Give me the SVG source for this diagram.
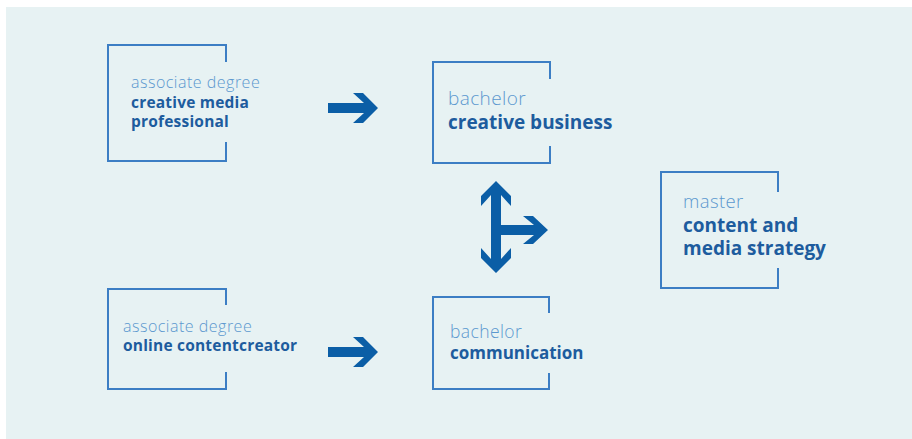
<svg xmlns="http://www.w3.org/2000/svg" width="912" height="439" viewBox="0 0 912 439">
<style>
.frame{fill:none;stroke:#3c7ec4;stroke-width:2}
.arrow{fill:#0b5ea6}
text{font-family:"Open Sans","DejaVu Sans",sans-serif}
.lt{fill:#5b98cf;font-weight:300}
.bd{fill:#1d5c9e;font-weight:700}
</style>
<rect x="0" y="0" width="912" height="439" fill="#ffffff"/>
<rect x="6" y="7" width="906" height="432" fill="#e7f2f3"/>
<g id="assoc-cmp">
<path class="frame" d="M226,62 V45 H108 V161 H226 V142"/>
<text class="lt" x="131" y="88" font-size="16" letter-spacing="0.5">associate degree</text>
<text class="bd" x="131" y="108" font-size="15.5" letter-spacing="0.2">creative media</text>
<text class="bd" x="131" y="127" font-size="15.5" letter-spacing="0.2">professional</text>
</g>
<g id="bachelor-cb">
<path class="frame" d="M550,79 V62 H433 V163 H550 V146"/>
<text class="lt" x="448" y="105" font-size="19" letter-spacing="0.4">bachelor</text>
<text class="bd" x="448" y="129" font-size="19">creative business</text>
</g>
<g id="master-cms">
<path class="frame" d="M778,192 V172 H661 V288 H778 V268"/>
<text class="lt" x="683" y="208" font-size="18.5" letter-spacing="0.4">master</text>
<text class="bd" x="683" y="232" font-size="19">content and</text>
<text class="bd" x="683" y="255" font-size="19">media strategy</text>
</g>
<g id="assoc-occ">
<path class="frame" d="M226,305 V289 H108 V389 H226 V372"/>
<text class="lt" x="123" y="332" font-size="16" letter-spacing="0.5">associate degree</text>
<text class="bd" x="123" y="351" font-size="15.5" letter-spacing="0.2">online contentcreator</text>
</g>
<g id="bachelor-com">
<path class="frame" d="M549,313 V297 H433 V389 H549 V373"/>
<text class="lt" x="450" y="338" font-size="17.5" letter-spacing="0.4">bachelor</text>
<text class="bd" x="450" y="359" font-size="17">communication</text>
</g>
<g id="connectors">
<path class="arrow" d="M328,103 H364 L353,93 H363 L378,108 L363,123 H353 L364,113 H328 Z"/>
<path class="arrow" d="M328,347 H364 L353,337 H363 L378,352 L363,367 H353 L364,357 H328 Z"/>
<path class="arrow" d="M491,195 L481,206 V196 L496,181 L511,196 V206 L501,195 V225 H534 L523,216 H533 L548,230 L533,244 H523 L534,235 H501 V259 L511,248 V258 L496,273 L481,258 V248 L491,259 Z"/>
</g>
</svg>
